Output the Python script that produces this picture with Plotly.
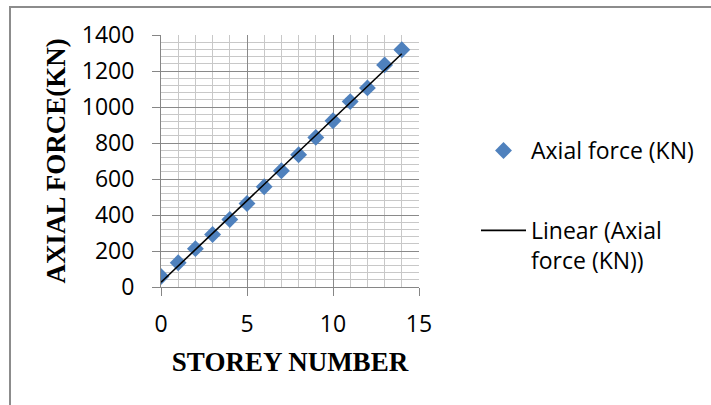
import numpy as np
import plotly.graph_objects as go

storey = [0, 1, 2, 3, 4, 5, 6, 7, 8, 9, 10, 11, 12, 13, 14]
axial_force = [58, 135, 213, 292, 375, 464, 557, 646, 735, 831, 924, 1030, 1106, 1234, 1318]
x_ticks = [0, 5, 10, 15]
y_ticks = [0, 200, 400, 600, 800, 1000, 1200, 1400]

W, H = 711, 405
L, R, T, B = 161, 292, 35, 118
pw, ph = W - L - R, H - T - B

def px_x(p):
    return (p - L) / pw

def px_y(p):
    return (H - B - p) / ph

coef = np.polyfit(storey, axial_force, 1)
trend_x = [storey[0], storey[-1]]
trend_y = [float(np.polyval(coef, v)) for v in trend_x]

fig = go.Figure()
fig.add_trace(go.Scatter(
    x=storey, y=axial_force, mode="markers", name="Axial force (KN)",
    marker=dict(symbol="diamond", size=13, color="#4F81BD", line=dict(width=0)),
    legendgroup="a",
))
fig.add_trace(go.Scatter(
    x=trend_x, y=trend_y, mode="lines", name="Linear (Axial<br>force (KN))",
    line=dict(color="black", width=1.6), legendgroup="b",
))

axis_common = dict(
    showline=True, linecolor="#868686", linewidth=1,
    gridcolor="#8a8a8a", gridwidth=1,
    ticks="outside", ticklen=8, tickcolor="#868686",
    tickfont=dict(family="Open Sans", size=23, color="black"),
    zeroline=False,
)

fig.update_xaxes(
    range=[0, 15], tickvals=x_ticks, ticklabelstandoff=8,
    minor=dict(dtick=1, showgrid=True, gridcolor="#c8c8c8", gridwidth=1, ticks=""),
    title=dict(text="<b>STOREY NUMBER</b>", font=dict(family="Liberation Serif", size=27, color="black"), standoff=14),
    **axis_common,
)
fig.update_yaxes(
    range=[0, 1400], tickvals=y_ticks, ticklabelstandoff=13,
    minor=dict(dtick=40, showgrid=True, gridcolor="#c8c8c8", gridwidth=1, ticks=""),
    title=dict(text="<b>AXIAL FORCE(KN)</b>", font=dict(family="Liberation Serif", size=27, color="black"), standoff=8),
    **axis_common,
)

fig.update_layout(
    width=W, height=H,
    margin=dict(l=L, r=R, t=T, b=B, pad=0, autoexpand=False),
    paper_bgcolor="white", plot_bgcolor="white",
    showlegend=True,
    legend=dict(
        x=476 / W, y=1 - 129 / H, xref="container", yref="container",
        xanchor="left", yanchor="top",
        font=dict(family="Open Sans", size=23, color="black"),
        tracegroupgap=47, traceorder="grouped", valign="top",
        bgcolor="rgba(0,0,0,0)", itemwidth=45,
    ),
    shapes=[
        dict(type="line", xref="paper", yref="paper",
             x0=px_x(9), x1=px_x(711), y0=px_y(7), y1=px_y(7),
             line=dict(color="#8c8c8c", width=2)),
        dict(type="line", xref="paper", yref="paper",
             x0=px_x(10), x1=px_x(10), y0=px_y(7), y1=px_y(410),
             line=dict(color="#8c8c8c", width=2)),
    ],
)

fig.write_html(
    "out.html",
    config={"displayModeBar": False},
    post_script="document.body.style.margin='0';",
)
